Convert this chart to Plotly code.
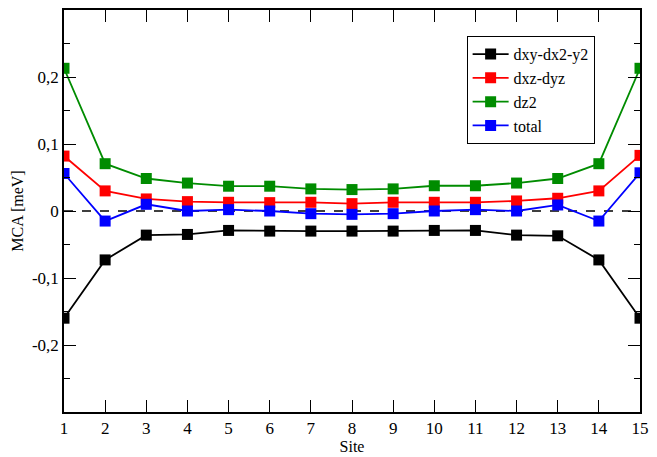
import plotly.graph_objects as go

sites = list(range(1, 16))
dxy_dx2y2 = [-0.160, -0.073, -0.036, -0.035, -0.029, -0.030, -0.030, -0.030,
             -0.030, -0.029, -0.029, -0.036, -0.037, -0.073, -0.160]
dxz_dyz = [0.082, 0.030, 0.018, 0.014, 0.013, 0.0125, 0.013, 0.011,
           0.013, 0.013, 0.013, 0.015, 0.019, 0.030, 0.083]
dz2 = [0.213, 0.0706, 0.0485, 0.0417, 0.037, 0.037, 0.033, 0.032,
       0.033, 0.0377, 0.0377, 0.0417, 0.0485, 0.0706, 0.213]
total = [0.056, -0.015, 0.010, 0.0, 0.002, 0.0, -0.004, -0.005,
         -0.004, 0.0, 0.002, 0.0, 0.009, -0.015, 0.057]

series_names = ["dxy-dx2-y2", "dxz-dyz", "dz2", "total"]
series_values = [dxy_dx2y2, dxz_dyz, dz2, total]
series_colors = ["#000000", "#ff0000", "#008c00", "#0000ff"]

y_tickvals = [-0.2, -0.1, 0, 0.1, 0.2]
y_ticktext = ["-0,2", "-0,1", "0", "0,1", "0,2"]
y_minorvals = [-0.25, -0.15, -0.05, 0.05, 0.15, 0.25]

font_family = "Liberation Serif, Times New Roman, serif"

fig = go.Figure()

# dashed zero line
fig.add_trace(go.Scatter(x=[1, 15], y=[0, 0], mode="lines",
                         line=dict(color="black", width=1.5, dash="dash"),
                         showlegend=False, hoverinfo="skip"))

for name, vals, col in zip(series_names, series_values, series_colors):
    fig.add_trace(go.Scatter(
        x=sites, y=vals, name=name, mode="lines+markers",
        line=dict(color=col, width=1.8),
        marker=dict(symbol="square", size=11, color=col),
    ))

fig.update_layout(
    width=657, height=457,
    margin=dict(l=64, r=8, t=8, b=40),
    paper_bgcolor="white", plot_bgcolor="white",
    font=dict(family=font_family, size=16, color="black"),
    legend=dict(x=0.699, y=0.935, xanchor="left", yanchor="top",
                bordercolor="black", borderwidth=1, bgcolor="white",
                font=dict(family=font_family, size=16),
                tracegroupgap=0, itemwidth=36),
    xaxis=dict(range=[1, 15], tickmode="array", tickvals=sites,
               ticktext=[str(s) for s in sites],
               ticks="inside", ticklen=12, tickwidth=1, tickcolor="black",
               showline=True, linecolor="black", linewidth=1.5, mirror="ticks",
               showgrid=False, zeroline=False,
               title=dict(text="Site", standoff=0,
                          font=dict(family=font_family, size=16)),
               tickfont=dict(family=font_family, size=17)),
    yaxis=dict(range=[-0.3, 0.3], tickmode="array", tickvals=y_tickvals,
               ticktext=y_ticktext,
               ticks="inside", ticklen=12, tickwidth=1, tickcolor="black",
               minor=dict(tickmode="array", tickvals=y_minorvals,
                          ticks="inside", ticklen=6, tickcolor="black"),
               showline=True, linecolor="black", linewidth=1.5, mirror="ticks",
               showgrid=False, zeroline=False,
               title=dict(text="MCA [meV]", standoff=4,
                          font=dict(family=font_family, size=16)),
               tickfont=dict(family=font_family, size=17)),
)

fig.write_html("out.html", config={"displayModeBar": False},
               post_script="document.body.style.margin='0';document.body.style.overflow='hidden';")
